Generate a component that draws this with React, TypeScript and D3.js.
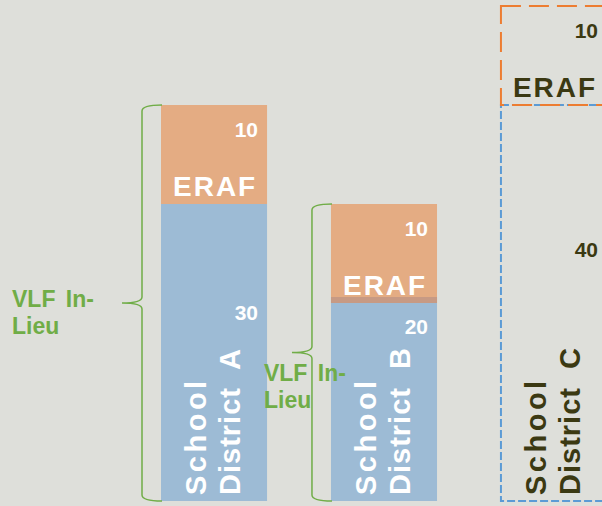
import React, { useEffect, useRef } from 'react';
import * as d3 from 'd3';

// values
const districts = ['School District A', 'School District B', 'School District C'];
const erafValues = [10, 10, 10];
const vlfValues = [30, 20, 40];
const projected = [false, false, true]; // C is only outlined (dashed)
const bracedDistricts = ['School District A', 'School District B'];
const braceLabelLines = ['VLF In-', 'Lieu'];
const erafLabel = 'ERAF';

const W = 602;
const H = 506;
const FONT = '"Liberation Sans", Arial, sans-serif';

const ORANGE = '#E4AC83';
const BLUE = '#9DBBD5';
const SEAM = '#C79A84';
const GREEN = '#70AD47';
const DARK = '#3B3912';

// annotation placement (px), per bar / per brace
const baseValueLabelY = [320, 334, 257];
const braceLabelOffset = [
  { dx: -110, dy: 4 },
  { dx: -28, dy: 28 },
];

const App: React.FC = () => {
  const ref = useRef<SVGSVGElement>(null);

  useEffect(() => {
    if (!ref.current) return;
    const svg = d3.select(ref.current);
    svg.selectAll('*').remove();

    const x = d3.scaleBand().domain(districts).range([161, 607]).paddingInner(0.376).paddingOuter(0);
    const y = d3.scaleLinear().domain([0, 50]).range([501, 6]);
    const bw = x.bandwidth();

    svg.append('rect').attr('width', W).attr('height', H).attr('fill', '#DEDFDA');

    const rows = districts.map((name, i) => ({
      name,
      eraf: erafValues[i],
      vlf: vlfValues[i],
      projected: projected[i],
      x0: x(name) || 0,
    }));

    // bars
    rows.forEach((d) => {
      const g = svg.append('g');
      if (d.projected) {
        g.append('rect')
          .attr('x', d.x0)
          .attr('y', y(d.vlf))
          .attr('width', bw)
          .attr('height', y(0) - y(d.vlf))
          .attr('fill', 'none')
          .attr('stroke', '#5B9BD5')
          .attr('stroke-width', 2)
          .attr('stroke-dasharray', '8,3');
        g.append('rect')
          .attr('x', d.x0)
          .attr('y', y(d.vlf + d.eraf))
          .attr('width', bw)
          .attr('height', y(d.vlf) - y(d.vlf + d.eraf))
          .attr('fill', 'none')
          .attr('stroke', '#ED7D31')
          .attr('stroke-width', 2)
          .attr('stroke-dasharray', '20,8');
      } else {
        g.append('rect')
          .attr('x', d.x0)
          .attr('y', y(d.vlf))
          .attr('width', bw)
          .attr('height', y(0) - y(d.vlf))
          .attr('fill', BLUE);
        g.append('rect')
          .attr('x', d.x0)
          .attr('y', y(d.vlf + d.eraf))
          .attr('width', bw)
          .attr('height', y(d.vlf) - y(d.vlf + d.eraf))
          .attr('fill', ORANGE);
        if (d.name === 'School District B') {
          g.append('rect')
            .attr('x', d.x0)
            .attr('y', y(d.vlf) - 6)
            .attr('width', bw)
            .attr('height', 6)
            .attr('fill', SEAM);
        }
      }
    });

    // labels inside bars
    rows.forEach((d, i) => {
      const color = d.projected ? DARK : '#ffffff';
      const g = svg
        .append('g')
        .attr('font-family', FONT)
        .attr('font-weight', 'bold')
        .attr('fill', color);

      g.append('text')
        .attr('x', d.x0 + bw - 9)
        .attr('y', y(d.vlf + d.eraf) + 32)
        .attr('text-anchor', 'end')
        .attr('font-size', 21)
        .text(String(d.eraf));

      g.append('text')
        .attr('x', d.x0 + 12)
        .attr('y', y(d.vlf) - 8)
        .attr('font-size', 28)
        .attr('letter-spacing', 2)
        .text(erafLabel);

      g.append('text')
        .attr('x', d.x0 + bw - 9)
        .attr('y', baseValueLabelY[i])
        .attr('text-anchor', 'end')
        .attr('font-size', 21)
        .text(String(d.vlf));

      const [first, ...rest] = d.name.split(' ');
      const lines = [
        { t: first, dx: 45, ls: 3.5 },
        { t: rest.join('  '), dx: 79, ls: 1 },
      ];
      lines.forEach((l) => {
        g.append('text')
          .attr('transform', `translate(${d.x0 + l.dx},495) rotate(-90)`)
          .attr('font-size', 29)
          .attr('letter-spacing', l.ls)
          .attr('xml:space', 'preserve')
          .style('white-space', 'pre')
          .text(l.t);
      });
    });

    // braces
    bracedDistricts.forEach((name, k) => {
      const d = rows.find((r) => r.name === name)!;
      const top = y(d.vlf + d.eraf);
      const bot = y(0);
      const mid = (top + bot) / 2;
      const bx = d.x0 - 19;
      const tip = bx - 20;
      const r = 6;
      const p = d3.path();
      p.moveTo(d.x0 + 1, top);
      p.quadraticCurveTo(bx, top, bx, top + r);
      p.lineTo(bx, mid - r);
      p.quadraticCurveTo(bx, mid, tip, mid);
      p.quadraticCurveTo(bx, mid, bx, mid + r);
      p.lineTo(bx, bot - r);
      p.quadraticCurveTo(bx, bot, d.x0 + 1, bot);
      svg
        .append('path')
        .attr('d', p.toString())
        .attr('fill', 'none')
        .attr('stroke', GREEN)
        .attr('stroke-width', 1.5);

      const off = braceLabelOffset[k];
      const lbl = svg
        .append('text')
        .attr('font-family', FONT)
        .attr('font-weight', 'bold')
        .attr('font-size', 23)
        .attr('word-spacing', 4)
        .attr('fill', GREEN);
      braceLabelLines.forEach((line, j) => {
        lbl
          .append('tspan')
          .attr('x', tip + off.dx)
          .attr('y', mid + off.dy + j * 27)
          .text(line);
      });
    });

    return () => {
      svg.selectAll('*').remove();
    };
  }, []);

  return (
    <svg
      ref={ref}
      width={W}
      height={H}
      style={{ position: 'absolute', left: 0, top: 0, display: 'block' }}
    />
  );
};

export default App;
